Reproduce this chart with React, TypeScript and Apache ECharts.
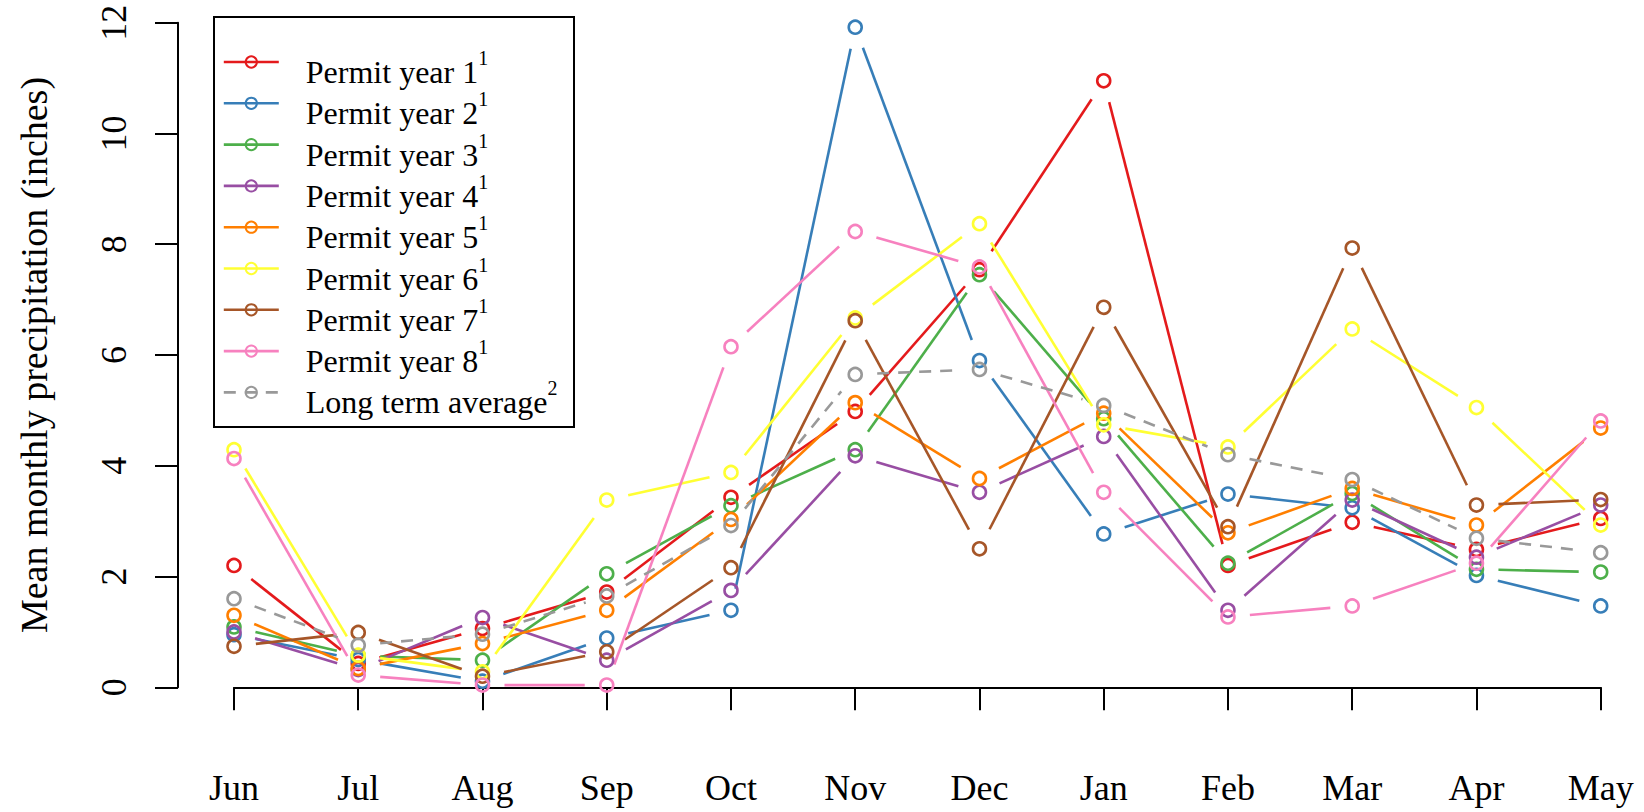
import React, { useEffect, useRef } from "react";
import * as echarts from "echarts";

const months = ["Jun", "Jul", "Aug", "Sep", "Oct", "Nov", "Dec", "Jan", "Feb", "Mar", "Apr", "May"];

const permitYear1 = [2.2, 0.43, 1.06, 1.72, 3.43, 4.98, 7.54, 10.95, 2.2, 2.98, 2.49, 3.05];
const permitYear2 = [0.95, 0.5, 0.11, 0.89, 1.39, 11.92, 5.9, 2.77, 3.49, 3.24, 2.02, 1.47];
const permitYear3 = [1.09, 0.57, 0.49, 2.05, 3.28, 4.29, 7.45, 4.85, 2.24, 3.5, 2.13, 2.08];
const permitYear4 = [1.0, 0.32, 1.26, 0.49, 1.75, 4.18, 3.52, 4.53, 1.39, 3.38, 2.35, 3.29];
const permitYear5 = [1.3, 0.34, 0.79, 1.39, 3.03, 5.14, 3.77, 4.95, 2.79, 3.59, 2.93, 4.68];
const permitYear6 = [4.29, 0.58, 0.28, 3.38, 3.88, 6.67, 8.37, 4.74, 4.34, 6.47, 5.05, 2.93];
const permitYear7 = [0.74, 0.99, 0.2, 0.64, 2.16, 6.62, 2.5, 6.86, 2.9, 7.93, 3.29, 3.39];
const permitYear8 = [4.13, 0.22, 0.04, 0.04, 6.15, 8.23, 7.59, 3.52, 1.27, 1.47, 2.24, 4.81];
const longTermAverage = [1.6, 0.76, 0.96, 1.65, 2.92, 5.65, 5.74, 5.09, 4.2, 3.75, 2.69, 2.43];

const seriesNames = [
  "Permit year 1",
  "Permit year 2",
  "Permit year 3",
  "Permit year 4",
  "Permit year 5",
  "Permit year 6",
  "Permit year 7",
  "Permit year 8",
  "Long term average",
];
const superscripts = ["1", "1", "1", "1", "1", "1", "1", "1", "2"];
const seriesValues = [
  permitYear1,
  permitYear2,
  permitYear3,
  permitYear4,
  permitYear5,
  permitYear6,
  permitYear7,
  permitYear8,
  longTermAverage,
];
const seriesColors = [
  "#E41A1C",
  "#377EB8",
  "#4DAF4A",
  "#984EA3",
  "#FF7F00",
  "#FFFF33",
  "#A65628",
  "#F781BF",
  "#999999",
];
const dashedFlags = [false, false, false, false, false, false, false, false, true];

const FONT = "'Liberation Serif', 'Times New Roman', serif";
const LINE_W = 2.6;
const GAP = 22;
const DASH = [12, 9];

export default function App() {
  const ref = useRef<HTMLDivElement>(null);

  useEffect(() => {
    if (!ref.current) return;
    const chart = echarts.init(ref.current, undefined, { renderer: "svg" });

    const series: any[] = [];
    seriesValues.forEach((vals, k) => {
      const color = seriesColors[k];
      const dashed = dashedFlags[k];
      const segData = vals.slice(0, -1).map((v, i) => [i, v, vals[i + 1]]);
      series.push({
        type: "custom",
        name: "seg-" + k,
        silent: true,
        clip: false,
        encode: { x: 0, y: [1, 2] },
        data: segData,
        z: 2,
        renderItem: (params: any, api: any) => {
          const i = api.value(0);
          const a = api.coord([i, api.value(1)]);
          const b = api.coord([i + 1, api.value(2)]);
          const dx = b[0] - a[0];
          const dy = b[1] - a[1];
          const len = Math.sqrt(dx * dx + dy * dy);
          if (len <= 2 * GAP) return null;
          const ux = dx / len;
          const uy = dy / len;
          return {
            type: "line",
            shape: {
              x1: a[0] + ux * GAP,
              y1: a[1] + uy * GAP,
              x2: b[0] - ux * GAP,
              y2: b[1] - uy * GAP,
            },
            style: {
              stroke: color,
              lineWidth: LINE_W,
              lineDash: dashed ? DASH : null,
              fill: null,
            },
          };
        },
      });
      series.push({
        type: "line",
        name: seriesNames[k],
        data: vals,
        symbol: "circle",
        symbolSize: 13,
        showSymbol: true,
        showAllSymbol: true,
        silent: true,
        z: 3,
        itemStyle: {
          color: "rgba(0,0,0,0)",
          borderColor: color,
          borderWidth: LINE_W,
        },
        lineStyle: {
          width: 0,
          color: color,
          type: dashed ? DASH : "solid",
        },
        emphasis: { disabled: true },
      });
    });

    const option: any = {
      animation: false,
      backgroundColor: "#ffffff",
      textStyle: { fontFamily: FONT },
      grid: { left: 234, right: 43.3, top: 22.7, bottom: 124.7 },
      xAxis: {
        type: "category",
        data: months,
        boundaryGap: false,
        offset: 29,
        axisLine: { show: true, lineStyle: { color: "#000", width: 2 } },
        axisTick: { show: true, length: 23, lineStyle: { color: "#000", width: 2 } },
        axisLabel: {
          margin: 54,
          fontSize: 36,
          lineHeight: 36,
          fontFamily: FONT,
          color: "#000",
          interval: 0,
        },
        splitLine: { show: false },
      },
      yAxis: {
        type: "value",
        min: 0,
        max: 12,
        interval: 2,
        offset: 56,
        name: "Mean monthly precipitation (inches)",
        nameLocation: "middle",
        nameGap: 125,
        nameTextStyle: { fontSize: 38, fontFamily: FONT, color: "#000", lineHeight: 38 },
        axisLine: { show: true, lineStyle: { color: "#000", width: 2 } },
        axisTick: { show: true, length: 23, lineStyle: { color: "#000", width: 2 } },
        axisLabel: {
          rotate: 90,
          margin: 46,
          fontSize: 36,
          lineHeight: 36,
          fontFamily: FONT,
          color: "#000",
        },
        splitLine: { show: false },
      },
      legend: {
        orient: "vertical",
        left: 222.5,
        top: 35,
        padding: 0,
        itemGap: -12.7,
        itemWidth: 55,
        itemHeight: 14,
        selectedMode: false,
        data: seriesNames,
        lineStyle: { width: LINE_W },
        formatter: (name: string) => {
          const idx = seriesNames.indexOf(name);
          return `{a|${name}}{s|${superscripts[idx]}}`;
        },
        textStyle: {
          fontFamily: FONT,
          color: "#000",
          rich: {
            a: {
              fontFamily: FONT,
              fontSize: 32,
              lineHeight: 34,
              color: "#000",
              padding: [20, 0, 0, 22],
            },
            s: {
              fontFamily: FONT,
              fontSize: 20,
              lineHeight: 20,
              color: "#000",
              padding: [13, 0, 21, 0],
            },
          },
        },
      },
      graphic: [
        {
          type: "rect",
          shape: { x: 214, y: 17, width: 360, height: 410 },
          style: { fill: "none", stroke: "#000", lineWidth: 2 },
          silent: true,
          z: 10,
        },
      ],
      series,
    };

    chart.setOption(option);
    return () => {
      chart.dispose();
    };
  }, []);

  return (
    <div
      ref={ref}
      style={{ position: "fixed", left: 0, top: 0, width: 1644, height: 812, background: "#fff" }}
    />
  );
}
